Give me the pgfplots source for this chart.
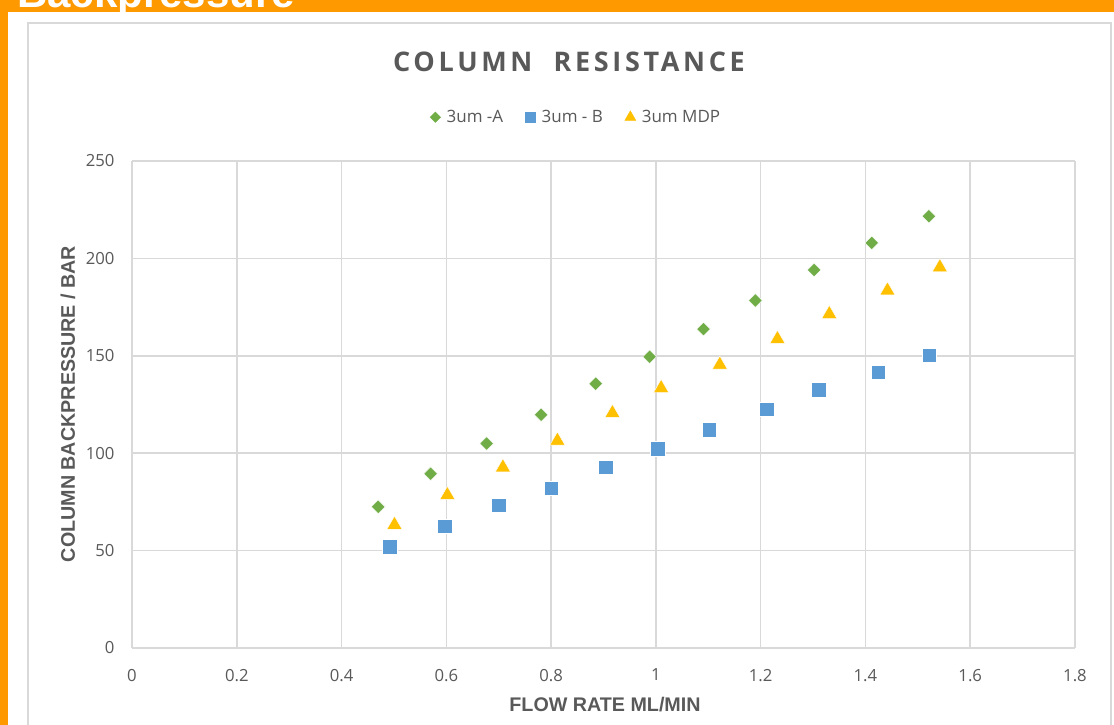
\documentclass[border=0pt]{standalone}
\usepackage{fontspec}
\setmainfont{Open Sans}
\newfontfamily\titlefont[LetterSpace=13.5]{Open Sans}
\newfontfamily\labfont{Liberation Sans}
\usepackage{pgfplots}
\pgfplotsset{compat=1.18}
\definecolor{orng}{HTML}{FF9900}
\definecolor{gridgray}{HTML}{D9D9D9}
\definecolor{txtgray}{HTML}{595959}
\definecolor{cgreen}{HTML}{70AD47}
\definecolor{cblue}{HTML}{5B9BD5}
\definecolor{cyellow}{HTML}{FFC000}
\begin{document}
\begin{tikzpicture}[x=1bp,y=1bp]
\clip (0,0) rectangle (1114,725);
\fill[orng] (0,0) rectangle (1114,725);
\node[anchor=base west, text=white, inner sep=0, font=\labfont\bfseries\fontsize{42bp}{50bp}\selectfont] at (17,717) {Backpressure};
\fill[white] (8,-1) rectangle (1114,713);
\draw[gridgray, line width=2bp] (28,-5) -- (28,702) -- (1111,702) -- (1111,-5);
\node[anchor=base, inner sep=0, text=txtgray, font=\titlefont\bfseries\fontsize{27bp}{30bp}\selectfont] at (569,653) {COLUMN\ \ RESISTANCE};
\begin{axis}[
  at={(132bp,77bp)}, anchor=south west,
  scale only axis, width=943bp, height=487bp,
  xmin=0, xmax=1.8, ymin=0, ymax=250,
  xtick={0,0.2,...,1.8}, ytick={0,50,...,250},
  axis line style={draw=none}, tick style={draw=none},
  grid=major, grid style={gridgray, line width=1.5bp},
  /pgf/number format/assume math mode=true,
  /pgf/number format/fixed,
  ticklabel style={font=\fontsize{16.7bp}{19bp}\selectfont, text=txtgray},
  xticklabel style={yshift=-17.5bp},
  yticklabel style={xshift=-14bp},
  xlabel={FLOW RATE ML/MIN},
  ylabel={COLUMN BACKPRESSURE / BAR},
  xlabel style={at={(axis description cs:0.5016,-0.117)}, anchor=center, font=\labfont\bfseries\fontsize{19.7bp}{22bp}\selectfont, text=txtgray},
  ylabel style={at={(axis description cs:-0.0679,0.501)}, anchor=center, rotate=0, font=\labfont\bfseries\fontsize{19.7bp}{22bp}\selectfont, text=txtgray},
  legend style={draw=none, fill=none, at={(0.471,1.09)}, anchor=center, legend columns=-1, font=\fontsize{17bp}{19bp}\selectfont, text=txtgray, /tikz/every even column/.append style={column sep=20bp}},
  legend cell align=left,
]
\addplot[only marks, mark=square*, mark size=4.8bp, mark options={rotate=45, fill=cgreen, draw=white, line width=0.4bp}, forget plot] coordinates {
(0.470,72.5) (0.570,89.5) (0.677,105) (0.781,119.7) (0.885,135.7) (0.988,149.5) (1.091,163.7) (1.190,178.4) (1.302,194) (1.412,208) (1.521,221.6)
};
\addplot[only marks, mark=square*, mark size=7.3bp, mark options={fill=cblue, draw=white, line width=0.4bp}, forget plot] coordinates {
(0.492,52) (0.597,62.5) (0.700,73.4) (0.800,82.1) (0.904,92.9) (1.003,102.3) (1.102,112.2) (1.212,122.5) (1.311,132.5) (1.424,141.5) (1.522,150.3)
};
\addplot[only marks, mark=triangle*, mark size=8.7bp, mark options={fill=cyellow, draw=white, line width=0.4bp}, forget plot] coordinates {
(0.501,63.2) (0.602,78.5) (0.708,92.7) (0.812,106.4) (0.917,120.6) (1.010,133.4) (1.122,145.4) (1.232,158.6) (1.331,171.4) (1.442,183.5) (1.542,195.4)
};
\addlegendimage{only marks, mark=square*, mark size=3.7bp, mark options={rotate=45, fill=cgreen, draw=cgreen}}
\addlegendentry{\hspace{4bp}3um -A}
\addlegendimage{only marks, mark=square*, mark size=5.2bp, mark options={fill=cblue, draw=cblue}}
\addlegendentry{\hspace{4bp}3um - B}
\addlegendimage{only marks, mark=triangle*, mark size=6.3bp, mark options={fill=cyellow, draw=cyellow}}
\addlegendentry{\hspace{4bp}3um MDP}
\end{axis}
\end{tikzpicture}
\end{document}
